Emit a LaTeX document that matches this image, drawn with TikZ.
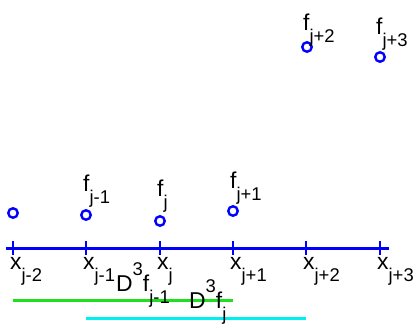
\documentclass[tikz,border=0pt]{standalone}
\usepackage{fontspec}
\setmainfont{Liberation Sans}
\newcommand\sbs[1]{\raisebox{-12bp}{\fontsize{18.5}{18.5}\selectfont #1}}
\newcommand\sps[1]{\raisebox{16bp}{\fontsize{18.5}{18.5}\selectfont #1}}
\definecolor{lgreen}{RGB}{30,225,30}
\definecolor{lcyan}{RGB}{0,240,240}
\tikzset{
  lab/.style={inner sep=0pt,anchor=base west,font=\fontsize{23}{23}\selectfont},
  pt/.style={circle,draw=blue,line width=2.4bp,minimum size=9.5bp,inner sep=0pt},
  axis/.style={blue,line width=3bp},
}
\begin{document}
\begin{tikzpicture}[x=1bp,y=-1bp]
\useasboundingbox (0,0) rectangle (414,325);
% axis
\coordinate (a0) at (6,248);
\coordinate (a1) at (389,248);
\draw[axis] (a0) -- (a1);
\foreach \i/\x in {0/13,1/86,2/160,3/233,4/306,5/380}{
  \coordinate (t\i a) at (\x,241);
  \coordinate (t\i b) at (\x,255);
  \draw[axis,line width=2.6bp] (t\i a) -- (t\i b);
}
% x labels
\node[lab] (x0) at (10,269) {x\sbs{j-2}};
\node[lab] (x1) at (83,269) {x\sbs{j-1}};
\node[lab] (x2) at (157,269) {x\sbs{j}};
\node[lab] (x3) at (230,269) {x\sbs{j+1}};
\node[lab] (x4) at (303,269) {x\sbs{j+2}};
\node[lab] (x5) at (377,269) {x\sbs{j+3}};
% points
\node[pt] (p0) at (13,213) {};
\node[pt] (p1) at (86,215) {};
\node[pt] (p2) at (160,221) {};
\node[pt] (p3) at (233,211) {};
\node[pt] (p4) at (307,47) {};
\node[pt] (p5) at (380,57) {};
% f labels
\node[lab] (f1) at (83,191) {f\sbs{j-1}};
\node[lab] (f2) at (157,196) {f\sbs{j}};
\node[lab] (f3) at (230,188) {f\sbs{j+1}};
\node[lab] (f4) at (303,30) {f\sbs{j+2}};
\node[lab] (f5) at (376,34) {f\sbs{j+3}};
% D lines
\coordinate (g0) at (13,300);
\coordinate (g1) at (233,300);
\draw[lgreen,line width=3bp] (g0) -- (g1);
\coordinate (c0) at (86,318);
\coordinate (c1) at (306,318);
\draw[lcyan,line width=3bp] (c0) -- (c1);
\node[lab] (d1) at (116,291) {D\sps{3}f\sbs{j-1}};
\node[lab] (d2) at (189,308) {D\sps{3}f\sbs{j}};
\end{tikzpicture}
\end{document}
